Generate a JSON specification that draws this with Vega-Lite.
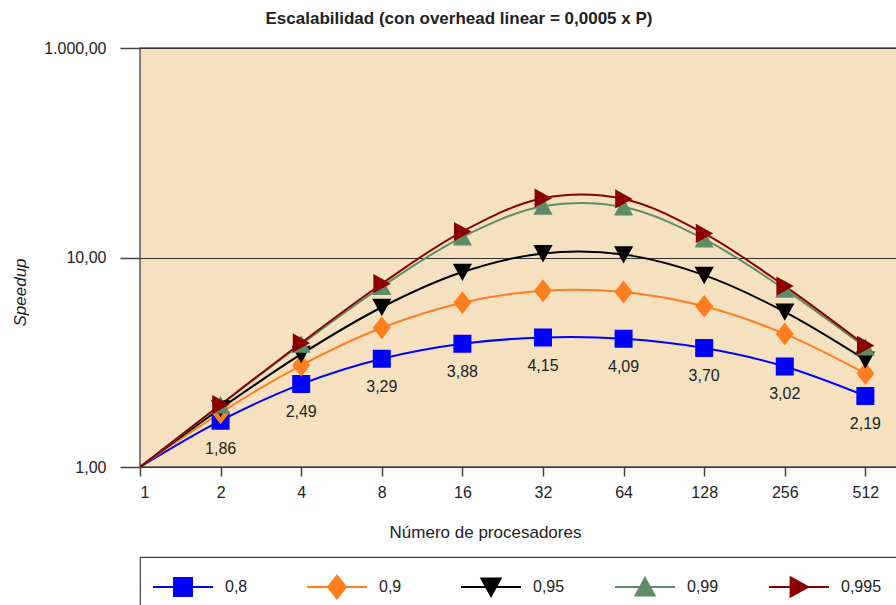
{
  "$schema": "https://vega.github.io/schema/vega-lite/v6.json",
  "background": "white",
  "autosize": {"type": "pad"},
  "padding": {"left": 10, "top": 9, "right": 0, "bottom": 0},
  "spacing": 15,
  "config": {"font": "Liberation Sans"},
  "datasets": {
    "speedup": [
      {"f": "0,8", "P": 1, "S": 0.9995},
      {"f": "0,8", "P": 2, "S": 1.664, "label": "1,86"},
      {"f": "0,8", "P": 4, "S": 2.488, "label": "2,49"},
      {"f": "0,8", "P": 8, "S": 3.289, "label": "3,29"},
      {"f": "0,8", "P": 16, "S": 3.876, "label": "3,88"},
      {"f": "0,8", "P": 32, "S": 4.149, "label": "4,15"},
      {"f": "0,8", "P": 64, "S": 4.094, "label": "4,09"},
      {"f": "0,8", "P": 128, "S": 3.697, "label": "3,70"},
      {"f": "0,8", "P": 256, "S": 3.020, "label": "3,02"},
      {"f": "0,8", "P": 512, "S": 2.185, "label": "2,19"},
      {"f": "0,9", "P": 1, "S": 0.9995},
      {"f": "0,9", "P": 2, "S": 1.815},
      {"f": "0,9", "P": 4, "S": 3.058},
      {"f": "0,9", "P": 8, "S": 4.619},
      {"f": "0,9", "P": 16, "S": 6.088},
      {"f": "0,9", "P": 32, "S": 6.938},
      {"f": "0,9", "P": 64, "S": 6.846},
      {"f": "0,9", "P": 128, "S": 5.847},
      {"f": "0,9", "P": 256, "S": 4.319},
      {"f": "0,9", "P": 512, "S": 2.795},
      {"f": "0,95", "P": 1, "S": 0.9995},
      {"f": "0,95", "P": 2, "S": 1.901},
      {"f": "0,95", "P": 4, "S": 3.454},
      {"f": "0,95", "P": 8, "S": 5.789},
      {"f": "0,95", "P": 16, "S": 8.520},
      {"f": "0,95", "P": 32, "S": 10.451},
      {"f": "0,95", "P": 64, "S": 10.326},
      {"f": "0,95", "P": 128, "S": 8.236},
      {"f": "0,95", "P": 256, "S": 5.503},
      {"f": "0,95", "P": 512, "S": 3.248},
      {"f": "0,99", "P": 1, "S": 0.9995},
      {"f": "0,99", "P": 2, "S": 1.976},
      {"f": "0,99", "P": 4, "S": 3.854},
      {"f": "0,99", "P": 8, "S": 7.260},
      {"f": "0,99", "P": 16, "S": 12.520},
      {"f": "0,99", "P": 32, "S": 17.563},
      {"f": "0,99", "P": 64, "S": 17.401},
      {"f": "0,99", "P": 128, "S": 12.235},
      {"f": "0,99", "P": 256, "S": 7.049},
      {"f": "0,99", "P": 512, "S": 3.732},
      {"f": "0,995", "P": 1, "S": 0.9995},
      {"f": "0,995", "P": 2, "S": 1.986},
      {"f": "0,995", "P": 4, "S": 3.910},
      {"f": "0,995", "P": 8, "S": 7.498},
      {"f": "0,995", "P": 16, "S": 13.300},
      {"f": "0,995", "P": 32, "S": 19.196},
      {"f": "0,995", "P": 64, "S": 19.031},
      {"f": "0,995", "P": 128, "S": 13.025},
      {"f": "0,995", "P": 256, "S": 7.305},
      {"f": "0,995", "P": 512, "S": 3.803}
    ],
    "series": [{"f": "0,8"}, {"f": "0,9"}, {"f": "0,95"}, {"f": "0,99"}, {"f": "0,995"}]
  },
  "vconcat": [
    {
      "width": 780,
      "height": 419,
      "title": {"text": "Escalabilidad (con overhead linear = 0,0005 x P)", "font": "Liberation Sans", "fontSize": 17, "fontWeight": "bold", "color": "#222222", "anchor": "middle", "frame": "group", "dx": -71, "offset": 12},
      "view": {"fill": "#f5e1bf", "stroke": "#5a5550", "strokeWidth": 1.5},
      "data": {"name": "speedup"},
      "encoding": {
        "x": {
          "field": "P", "type": "quantitative",
          "scale": {"type": "log", "base": 2, "domain": [1, 819]},
          "axis": {
            "values": [1, 2, 4, 8, 16, 32, 64, 128, 256, 512],
            "format": "d",
            "title": "Número de procesadores",
            "titleFont": "Liberation Sans", "titleFontSize": 17, "titleFontWeight": "normal", "titleColor": "#222222",
            "titleX": 345, "titleY": 57, "titleAlign": "center",
            "labelFont": "Liberation Sans", "labelFontSize": 16, "labelColor": "#222222", "labelPadding": 8,
            "tickSize": 9, "tickColor": "#444444", "tickWidth": 1.5,
            "domain": false, "grid": false
          }
        },
        "y": {
          "field": "S", "type": "quantitative",
          "scale": {"type": "log", "domain": [1, 100]},
          "axis": {
            "values": [1, 10, 100],
            "labelExpr": "datum.value >= 100 ? '1.000,00' : replace(format(datum.value, '.2f'), '.', ',')",
            "title": "Speedup",
            "titleFont": "Liberation Sans", "titleFontSize": 17, "titleFontWeight": "normal", "titleFontStyle": "italic", "titleColor": "#222222",
            "titleX": -120, "titleY": 244, "titleAlign": "center", "titleBaseline": "middle", "titleAngle": -90,
            "labelFont": "Liberation Sans", "labelFontSize": 16, "labelColor": "#222222", "labelPadding": 14,
            "tickSize": 20, "tickColor": "#444444", "tickWidth": 1.5,
            "grid": true, "gridColor": "#333333", "gridWidth": 1,
            "domain": false
          }
        }
      },
      "layer": [
        {
          "mark": {"type": "line", "interpolate": "catmull-rom", "strokeWidth": 2, "clip": true},
          "encoding": {
            "stroke": {
              "field": "f", "type": "nominal",
              "scale": {"domain": ["0,8", "0,9", "0,95", "0,99", "0,995"], "range": ["#0000ff", "#ff7f1f", "#000000", "#5e8c68", "#8b0000"]},
              "legend": null
            }
          }
        },
        {
          "transform": [{"filter": "datum.P > 1"}],
          "mark": {"type": "point", "filled": true, "opacity": 1, "size": 3600, "strokeWidth": 0},
          "encoding": {
            "color": {
              "field": "f", "type": "nominal",
              "scale": {"domain": ["0,8", "0,9", "0,95", "0,99", "0,995"], "range": ["#0000ff", "#ff7f1f", "#000000", "#5e8c68", "#8b0000"]},
              "legend": null
            },
            "shape": {
              "field": "f", "type": "nominal",
              "scale": {"domain": ["0,8", "0,9", "0,95", "0,99", "0,995"], "range": [
                "M-1,0H1M-0.3,-0.3H0.3V0.3H-0.3Z",
                "M-1,0H1M0,-0.38L0.3,0L0,0.38L-0.3,0Z",
                "M-1,0H1M-0.32,-0.28H0.32L0,0.3Z",
                "M-1,0H1M-0.32,0.28H0.32L0,-0.3Z",
                "M-1,0H1M-0.28,-0.32L0.3,0L-0.28,0.32Z"
              ]},
              "legend": null
            }
          }
        },
        {
          "transform": [{"filter": "isValid(datum.label)"}],
          "mark": {"type": "text", "dy": 28, "fontSize": 16, "font": "Liberation Sans", "color": "#222222"},
          "encoding": {"text": {"field": "label"}}
        }
      ]
    },
    {
      "width": 770,
      "height": 60,
      "view": {"fill": "#ffffff", "stroke": "#444444", "strokeWidth": 1.2},
      "data": {"name": "series"},
      "encoding": {
        "x": {
          "field": "f", "type": "nominal",
          "scale": {"type": "point", "padding": 0.5, "domain": ["0,8", "0,9", "0,95", "0,99", "0,995"]},
          "axis": null
        }
      },
      "layer": [
        {
          "mark": {"type": "point", "filled": true, "opacity": 1, "size": 3600, "strokeWidth": 2, "xOffset": -34},
          "encoding": {
            "color": {
              "field": "f", "type": "nominal",
              "scale": {"domain": ["0,8", "0,9", "0,95", "0,99", "0,995"], "range": ["#0000ff", "#ff7f1f", "#000000", "#5e8c68", "#8b0000"]},
              "legend": null
            },
            "stroke": {
              "field": "f", "type": "nominal",
              "scale": {"domain": ["0,8", "0,9", "0,95", "0,99", "0,995"], "range": ["#0000ff", "#ff7f1f", "#000000", "#5e8c68", "#8b0000"]},
              "legend": null
            },
            "shape": {
              "field": "f", "type": "nominal",
              "scale": {"domain": ["0,8", "0,9", "0,95", "0,99", "0,995"], "range": [
                "M-1,0H1M-0.3,-0.3H0.3V0.3H-0.3Z",
                "M-1,0H1M0,-0.38L0.3,0L0,0.38L-0.3,0Z",
                "M-1,0H1M-0.32,-0.28H0.32L0,0.3Z",
                "M-1,0H1M-0.32,0.28H0.32L0,-0.3Z",
                "M-1,0H1M-0.28,-0.32L0.3,0L-0.28,0.32Z"
              ]},
              "legend": null
            }
          }
        },
        {
          "mark": {"type": "text", "align": "left", "baseline": "middle", "dx": 8, "fontSize": 16, "font": "Liberation Sans", "color": "#222222"},
          "encoding": {"text": {"field": "f"}}
        }
      ]
    }
  ]
}
